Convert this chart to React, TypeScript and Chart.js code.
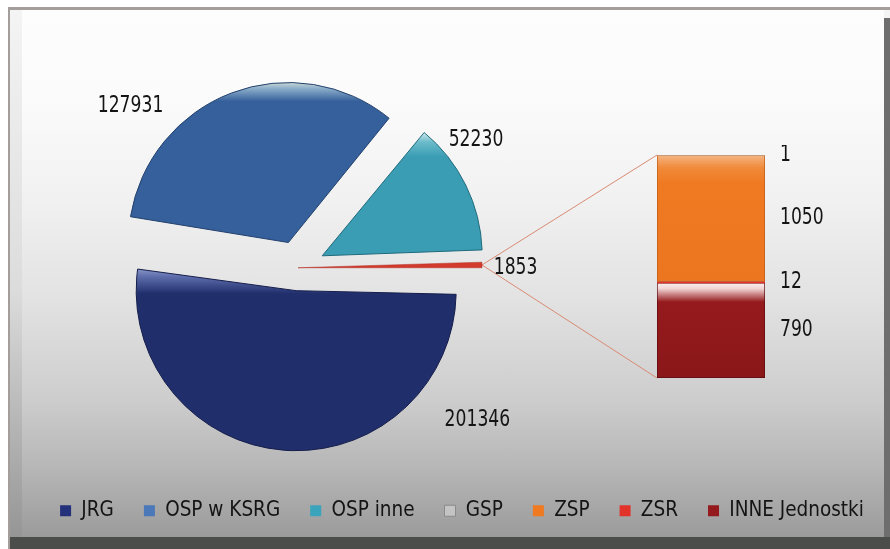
import React, { useEffect, useRef } from 'react';
import { Chart, registerables, layouts } from 'chart.js';

Chart.register(...registerables);

// ---- data ----
const pieLabels = ['JRG', 'OSP w KSRG', 'OSP inne', 'Pozostałe'];
const pieValues = [201346, 127931, 52230, 1853];
const pieColors = ['#202e6c', '#35609b', '#3a9db3', '#d23a2c'];
const pieBorders = ['#141d4a', '#22406c', '#1f6a7c', '#b02a20'];
// explode distance of each slice in px
const pieExplode = [23, 27, 27, 24];

const barLabels = ['GSP', 'ZSP', 'ZSR', 'INNE Jednostki'];
const barValues = [1, 1050, 12, 790];
const barColors = ['#c4c4c4', '#ef7a22', '#e2332b', '#951a1d'];

const legendPieColors = ['#23307a', '#4a78b8', '#3aa4bc'];

// ---- layout (page px) ----
const PIE_LEFT = 20;
const PIE_TOP = 0;
const PIE_W = 884;
const PIE_H = 549;
const PIE_RADIUS = 160;
const SPACER_W = 328;
const BAR_LEFT = 657;
const BAR_TOP = 145;
const BAR_W = 188;
const BAR_H = 243;

const FONT = "'DejaVu Sans Condensed', 'Liberation Sans Narrow', sans-serif";
const LABEL_SIZE = 23;
const LABEL_SQUEEZE = 0.83;

// label placement for pie slices (angle in degrees from the pie centre, distance as factor of radius)
const pieLabelAngle = [40.3, 224, -35.7, 0];
const pieLabelDist = [1.47, 1.455, 1.37, 1.36];

// Chart.js translates an arc by offset/4. The hair-thin slice would be squeezed to nothing by
// Chart.js' gap correction, so it is "exploded" by lengthening it instead.
const THIN = 3;
const arcOffsets = pieExplode.map((d, i) => (i === THIN ? 0 : d * 4));

function drawSqueezed(ctx: CanvasRenderingContext2D, text: string, x: number, y: number, align: CanvasTextAlign) {
  ctx.save();
  ctx.translate(x, y);
  ctx.scale(LABEL_SQUEEZE, 1);
  ctx.textAlign = align;
  ctx.textBaseline = 'middle';
  ctx.fillText(text, 0, 0);
  ctx.restore();
}

// glossy fill for the pie slices (coordinates in the arc's own, untranslated frame)
function sliceFill(c: any) {
  const i = c.dataIndex;
  const chart = c.chart;
  const ca = chart.chartArea;
  if (!ca || c.type !== 'data' || !isFinite(ca.top) || ca.bottom <= ca.top) return pieColors[i];
  const cy = (ca.top + ca.bottom) / 2;
  const R = PIE_RADIUS;
  const ctx = chart.ctx as CanvasRenderingContext2D;
  let g: CanvasGradient;
  if (i === 0) {
    g = ctx.createLinearGradient(0, cy - 30, 0, cy + 16);
    g.addColorStop(0, '#b4c0e4');
    g.addColorStop(0.35, '#5d6cab');
    g.addColorStop(0.72, pieColors[0]);
    g.addColorStop(1, pieColors[0]);
  } else if (i === 1) {
    g = ctx.createLinearGradient(0, cy - R - 1, 0, cy - R + 32);
    g.addColorStop(0, '#d4e0d4');
    g.addColorStop(0.2, '#8fb0cc');
    g.addColorStop(0.6, pieColors[1]);
    g.addColorStop(1, pieColors[1]);
  } else if (i === 2) {
    g = ctx.createLinearGradient(0, cy - 125, 0, cy - 88);
    g.addColorStop(0, '#e2f0ee');
    g.addColorStop(0.3, '#6cbccb');
    g.addColorStop(0.7, pieColors[2]);
    g.addColorStop(1, pieColors[2]);
  } else {
    return pieColors[i];
  }
  return g;
}

export default function App() {
  const pieRef = useRef<HTMLCanvasElement | null>(null);
  const barRef = useRef<HTMLCanvasElement | null>(null);

  useEffect(() => {
    Chart.defaults.font.family = FONT;
    const barTotal = barValues.reduce((a, b) => a + b, 0);

    const barLabelPlugin = {
      id: 'barValueLabels',
      afterDatasetsDraw(chart: any) {
        const ctx = chart.ctx;
        ctx.save();
        ctx.font = `${LABEL_SIZE}px ${FONT}`;
        ctx.fillStyle = '#141414';
        chart.data.datasets.forEach((ds: any, i: number) => {
          const el: any = chart.getDatasetMeta(i).data[0];
          if (!el) return;
          const x = el.x + el.width / 2 + 15;
          const y = (el.y + el.base) / 2;
          drawSqueezed(ctx, String(ds.data[0]), x, y, 'left');
        });
        ctx.restore();
      },
    };

    const barChart = new Chart(barRef.current as HTMLCanvasElement, {
      type: 'bar',
      data: {
        labels: [''],
        datasets: barLabels.map((l, i) => ({
          label: l,
          data: [barValues[i]],
          backgroundColor: (c: any) => {
            const chart = c.chart;
            const y = chart.scales && chart.scales.y;
            if (!y) return barColors[i];
            const start = barValues.slice(0, i).reduce((a, b) => a + b, 0);
            const p0 = y.getPixelForValue(start);
            const p1 = y.getPixelForValue(start + barValues[i]);
            if (!isFinite(p0) || !isFinite(p1) || p0 === p1) return barColors[i];
            const g = chart.ctx.createLinearGradient(0, p0, 0, p1);
            if (i === 3) {
              g.addColorStop(0, '#fbeeee');
              g.addColorStop(0.06, '#f1d4d4');
              g.addColorStop(0.2, barColors[i]);
              g.addColorStop(1, '#8a1719');
            } else if (i === 1) {
              g.addColorStop(0, '#f5b684');
              g.addColorStop(0.1, '#f08a3a');
              g.addColorStop(0.22, barColors[i]);
              g.addColorStop(1, '#ec7620');
            } else {
              g.addColorStop(0, barColors[i]);
              g.addColorStop(1, barColors[i]);
            }
            return g;
          },
          borderColor: ['#8a8a8a', '#b85a14', '#a01f18', '#5a0c0e'][i],
          borderWidth: i === 1 || i === 3 ? 1 : 0,
          borderSkipped: false,
          barPercentage: 1,
          categoryPercentage: 1,
        })),
      },
      options: {
        animation: false,
        responsive: false,
        events: [],
        layout: { padding: { top: 10, bottom: 10, left: 0, right: 80 } },
        plugins: { legend: { display: false }, tooltip: { enabled: false } },
        scales: {
          x: { display: false, stacked: true },
          y: { display: false, stacked: true, min: 0, max: barTotal, reverse: true },
        },
      },
      plugins: [barLabelPlugin],
    } as any);

    const spacerPlugin = {
      id: 'rightSpacer',
      beforeInit(chart: any) {
        const box: any = {
          position: 'right',
          weight: 0,
          fullSize: false,
          options: {},
          width: 0,
          height: 0,
          left: 0,
          top: 0,
          right: 0,
          bottom: 0,
          isHorizontal: () => false,
          update(_mw: number, mh: number) {
            box.width = SPACER_W;
            box.height = mh;
          },
          draw() {},
        };
        layouts.addBox(chart, box);
      },
    };

    // Chart.js enlarges an exploded arc by (offset/4)*fix; undo so all slices share one radius.
    // The thin slice is lengthened by its explode distance instead.
    const arcRadiusFix = {
      id: 'arcRadiusFix',
      afterDatasetsUpdate(chart: any) {
        const meta = chart.getDatasetMeta(0);
        const R = meta.controller.outerRadius;
        meta.data.forEach((arc: any, i: number) => {
          const off = (arc.options.offset || 0) / 4;
          const fix = 1 - Math.sin(Math.min(Math.PI, arc.circumference || 0));
          arc.outerRadius = R - off * fix + (i === THIN ? pieExplode[i] : 0);
        });
      },
    };

    const pieExtras = {
      id: 'pieExtras',
      beforeDatasetsDraw(chart: any) {
        const meta = chart.getDatasetMeta(0);
        const arc: any = meta.data[THIN];
        const topEl: any = barChart.getDatasetMeta(0).data[0];
        const botEl: any = barChart.getDatasetMeta(barValues.length - 1).data[0];
        if (!arc || !topEl || !botEl) return;
        const mid = (arc.startAngle + arc.endAngle) / 2;
        const off = (arc.options.offset || 0) / 4;
        const fix = 1 - Math.sin(Math.min(Math.PI, arc.circumference || 0));
        const reach = arc.outerRadius + off * fix + off;
        const tx = arc.x + Math.cos(mid) * reach;
        const ty = arc.y + Math.sin(mid) * reach;
        const dx = BAR_LEFT - PIE_LEFT;
        const dy = BAR_TOP - PIE_TOP;
        const left = topEl.x - topEl.width / 2 + dx;
        const top = Math.min(topEl.y, topEl.base) + dy;
        const bottom = Math.max(botEl.y, botEl.base) + dy;
        const ctx = chart.ctx;
        ctx.save();
        ctx.strokeStyle = '#d98a72';
        ctx.lineWidth = 1;
        ctx.beginPath();
        ctx.moveTo(tx, ty);
        ctx.lineTo(left, top);
        ctx.moveTo(tx, ty);
        ctx.lineTo(left, bottom);
        ctx.stroke();
        ctx.restore();
      },
      afterDatasetsDraw(chart: any) {
        const meta = chart.getDatasetMeta(0);
        const R = meta.controller.outerRadius;
        const ctx = chart.ctx;
        ctx.save();
        ctx.font = `${LABEL_SIZE}px ${FONT}`;
        ctx.fillStyle = '#141414';
        meta.data.forEach((arc: any, i: number) => {
          const a = (pieLabelAngle[i] * Math.PI) / 180;
          const r = R * pieLabelDist[i];
          drawSqueezed(ctx, String(pieValues[i]), arc.x + Math.cos(a) * r, arc.y + Math.sin(a) * r, 'center');
        });
        ctx.restore();
      },
    };

    const pieChart = new Chart(pieRef.current as HTMLCanvasElement, {
      type: 'pie',
      data: {
        labels: pieLabels,
        datasets: [
          {
            data: pieValues,
            backgroundColor: sliceFill,
            borderColor: pieBorders,
            borderWidth: [1, 1, 1, 0.5],
            offset: arcOffsets,
          },
        ],
      },
      options: {
        animation: false,
        responsive: false,
        events: [],
        rotation: 90,
        radius: PIE_RADIUS,
        layout: { padding: { top: 65, bottom: 18, left: 0, right: 0 } },
        plugins: {
          tooltip: { enabled: false },
          legend: {
            display: true,
            position: 'bottom',
            onClick: () => {},
            labels: {
              font: { size: 20.5, family: FONT },
              color: '#141414',
              boxWidth: 11,
              boxHeight: 11,
              padding: 30,
              generateLabels: () => {
                const a = pieLabels.slice(0, 3).map((t, i) => ({
                  text: t,
                  fillStyle: legendPieColors[i],
                  strokeStyle: legendPieColors[i],
                  lineWidth: 0,
                  hidden: false,
                  index: i,
                  fontColor: '#141414',
                }));
                const b = barLabels.map((t, i) => ({
                  text: t,
                  fillStyle: barColors[i],
                  strokeStyle: i === 0 ? '#8a8a8a' : barColors[i],
                  lineWidth: i === 0 ? 1 : 0,
                  hidden: false,
                  index: 3 + i,
                  fontColor: '#141414',
                }));
                return [...a, ...b];
              },
            },
          },
        },
      },
      plugins: [spacerPlugin, arcRadiusFix, pieExtras],
    } as any);

    return () => {
      pieChart.destroy();
      barChart.destroy();
    };
  }, []);

  return (
    <div
      style={{
        position: 'absolute',
        left: 0,
        top: 0,
        width: 890,
        height: 549,
        overflow: 'hidden',
        background: '#ffffff',
      }}
    >
      <div style={{ position: 'absolute', left: 8, top: 7, width: 900, height: 560, background: '#a39d9b' }} />
      <div
        style={{
          position: 'absolute',
          left: 10,
          top: 10,
          width: 900,
          height: 560,
          background: 'linear-gradient(to bottom, #f4f4f4 0%, #dcdcdc 50%, #8c8c8c 100%)',
        }}
      />
      <div
        style={{
          position: 'absolute',
          left: 22,
          top: 10,
          width: 862,
          height: 527,
          background:
            'linear-gradient(to bottom, #fdfdfd 0%, #fbfbfb 17%, #f1f1f1 36%, #e2e2e2 55%, #cdcdcd 74%, #b6b6b6 87%, #9b9b9b 100%)',
        }}
      />
      <div style={{ position: 'absolute', left: 884, top: 18, width: 6, height: 531, background: '#6e6e6e' }} />
      <div style={{ position: 'absolute', left: 10, top: 537, width: 880, height: 12, background: '#4b4d4b' }} />
      <canvas
        ref={pieRef}
        width={PIE_W}
        height={PIE_H}
        style={{ position: 'absolute', left: PIE_LEFT, top: PIE_TOP, width: PIE_W, height: PIE_H, display: 'block' }}
      />
      <canvas
        ref={barRef}
        width={BAR_W}
        height={BAR_H}
        style={{ position: 'absolute', left: BAR_LEFT, top: BAR_TOP, width: BAR_W, height: BAR_H, display: 'block' }}
      />
    </div>
  );
}
